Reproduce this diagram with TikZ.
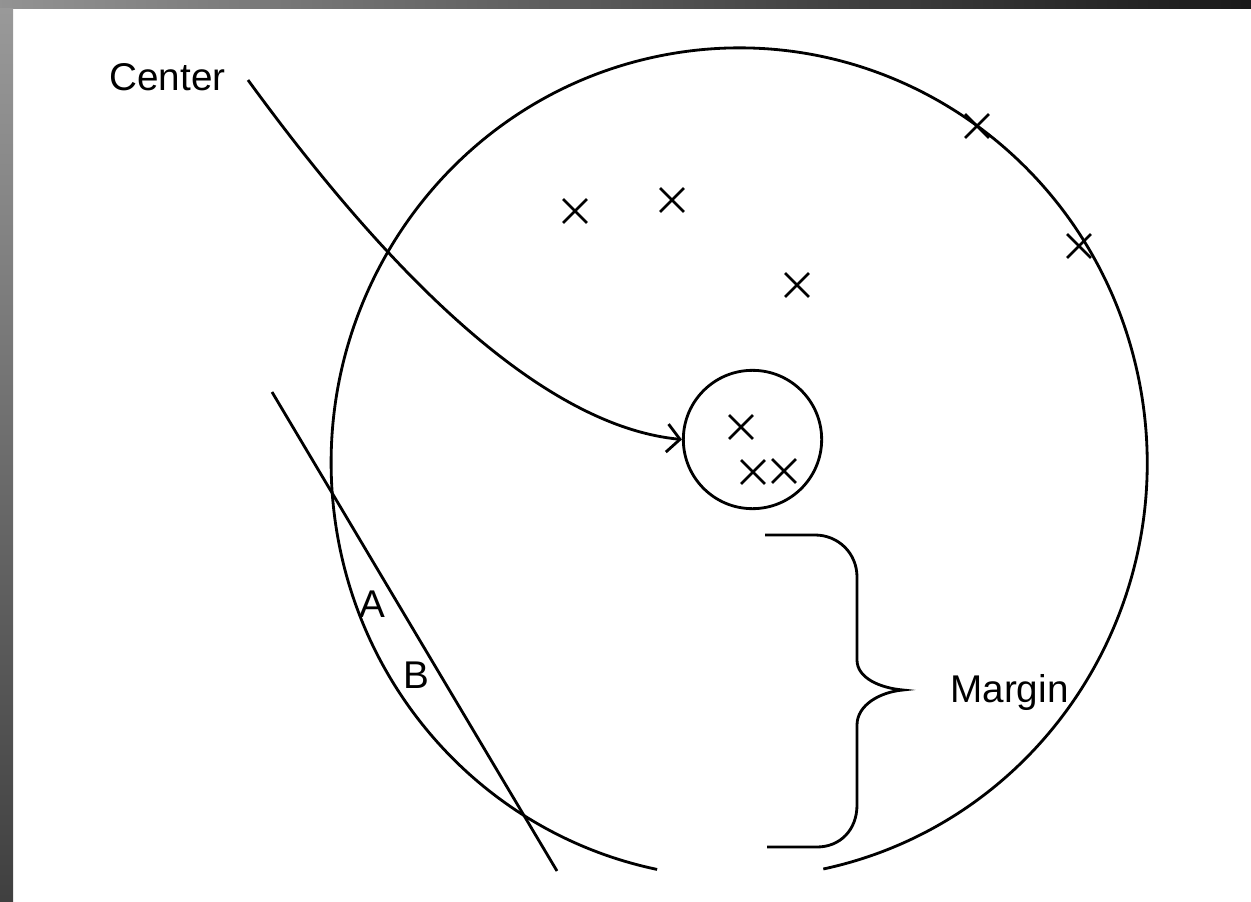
\documentclass[tikz,border=0pt]{standalone}
\usepackage{fontspec}
\setmainfont{Liberation Sans}
\usetikzlibrary{arrows.meta,shapes.misc}

\begin{document}
\begin{tikzpicture}[x=0.03cm,y=-0.03cm,line width=2.4pt,
  pick/.style={draw,cross out,minimum size=0.63cm,inner sep=0pt},
  lbl/.style={font=\fontsize{33}{36}\selectfont,inner sep=0pt,anchor=base west}]
\useasboundingbox (0,0) rectangle (1251,902);
\shade[left color=gray!85,middle color=gray!55,right color=black!90] (0,0) rectangle (1251,9);
\shade[top color=gray!80,bottom color=black!75] (0,9) rectangle (13,902);
% outer circle, open at the bottom
\coordinate (rimgap) at (823.3,869);
\draw (rimgap) arc[start angle=78.1,end angle=-258.4,x radius=408,y radius=415];
\node[draw,circle,minimum size=4.15cm,inner sep=0pt] (core) at (752.5,439.5){};
\foreach \px/\py [count=\i] in {575/211,672/200,797/285,977/126,1079/246,741/427,753/472,784/471}
  \node[pick] (x\i) at (\px,\py){};
\node[lbl] (ctrlabel) at (108,91){Center};
\node[lbl] (marginlabel) at (949,702){Margin};
\node[lbl,anchor=base] (sideA) at (372.5,617){A};
\node[lbl,anchor=base] (sideB) at (416.5,688){B};
\coordinate (ctrtail) at (248,80);
\draw[-{Straight Barb[length=11pt,width=24pt]}] (ctrtail) .. controls (419,315) and (563,428) .. (core.west);
\coordinate (chordtop) at (272,392);\coordinate (chordbot) at (557,871);
\draw (chordtop)--(chordbot);
% brace
\draw (765,535)--(815,535) .. controls (838,535) and (857,553) .. (857,577)--(857,660)
  .. controls (857,678) and (880,688) .. (903,690) .. controls (880,692) and (857,705) .. (857,725)
  --(857,805) .. controls (857,830) and (840,847) .. (817,847)--(767,847);
\end{tikzpicture}
\end{document}
